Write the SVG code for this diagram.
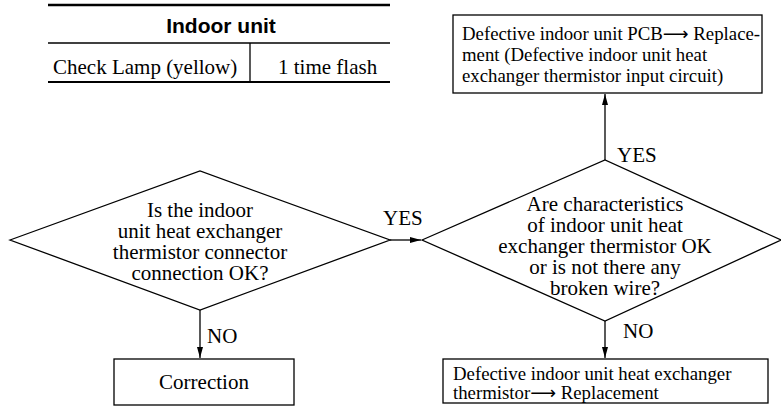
<svg xmlns="http://www.w3.org/2000/svg" width="781" height="408" viewBox="0 0 781 408">
<style>
.t{font-family:"Liberation Serif","Times New Roman",serif;font-size:21px;fill:#000}
.s{font-family:"Liberation Serif","Times New Roman",serif;font-size:18.8px;fill:#000}
.a{font-family:"DejaVu Sans",sans-serif;font-size:18px}
.h{font-family:"Liberation Sans",Arial,sans-serif;font-size:21px;font-weight:bold;fill:#000}
.sh{fill:#fff;stroke:#000;stroke-width:1.3}
.c{stroke:#000;stroke-width:1.3;fill:none}
</style>
<defs>
<marker id="ah" viewBox="0 0 11 6" refX="11" refY="3" markerWidth="11" markerHeight="6" markerUnits="userSpaceOnUse" orient="auto">
<path d="M0,0 L11,3 L0,6 Z" fill="#000"/>
</marker>
</defs>
<rect width="781" height="408" fill="#fff"/>
<g id="table">
<line x1="48" y1="5" x2="390" y2="5" stroke="#000" stroke-width="2.5"/>
<text class="h" x="221" y="33" text-anchor="middle">Indoor unit</text>
<line x1="48" y1="43" x2="390" y2="43" stroke="#000" stroke-width="1.5"/>
<text class="t" x="53" y="74">Check Lamp (yellow)</text>
<line x1="250" y1="43" x2="250" y2="82" stroke="#000" stroke-width="1.3"/>
<text class="t" x="278" y="74">1 time flash</text>
<line x1="48" y1="82" x2="390" y2="82" stroke="#000" stroke-width="2"/>
</g>
<g id="d1">
<polygon class="sh" points="10,240 200,171 390,240 200,310"/>
<text class="t" text-anchor="middle"><tspan x="200" y="217">Is the indoor</tspan><tspan x="200" y="238">unit heat exchanger</tspan><tspan x="200" y="259">thermistor connector</tspan><tspan x="200" y="280">connection OK?</tspan></text>
</g>
<g id="d2">
<polygon class="sh" points="422,240 605,160 781,240 605,321"/>
<text class="t" text-anchor="middle"><tspan x="605" y="211">Are characteristics</tspan><tspan x="605" y="232">of indoor unit heat</tspan><tspan x="605" y="253">exchanger thermistor OK</tspan><tspan x="605" y="274">or is not there any</tspan><tspan x="605" y="295">broken wire?</tspan></text>
</g>
<g id="pcb">
<rect class="sh" x="453" y="15" width="309" height="78"/>
<text class="s"><tspan x="462" y="40">Defective indoor unit PCB<tspan class="a">⟶</tspan> Replace-</tspan><tspan x="462" y="61">ment (Defective indoor unit heat</tspan><tspan x="462" y="82">exchanger thermistor input circuit)</tspan></text>
</g>
<g id="correction">
<rect class="sh" x="114" y="359" width="180" height="46"/>
<text class="t" x="204" y="389" text-anchor="middle">Correction</text>
</g>
<g id="thermistor">
<rect class="sh" x="443" y="359" width="325" height="44"/>
<text class="s"><tspan x="453" y="380">Defective indoor unit heat exchanger</tspan><tspan x="453" y="399">thermistor<tspan class="a">⟶</tspan> Replacement</tspan></text>
</g>
<g id="connectors">
<line class="c" x1="390" y1="240" x2="421" y2="240" marker-end="url(#ah)"/>
<line class="c" x1="605" y1="160" x2="605" y2="94" marker-end="url(#ah)"/>
<line class="c" x1="200" y1="310" x2="200" y2="358" marker-end="url(#ah)"/>
<line class="c" x1="605" y1="321" x2="605" y2="358" marker-end="url(#ah)"/>
<text class="t" x="383" y="225">YES</text>
<text class="t" x="617" y="162">YES</text>
<text class="t" x="207" y="343">NO</text>
<text class="t" x="623" y="338">NO</text>
</g>
</svg>
